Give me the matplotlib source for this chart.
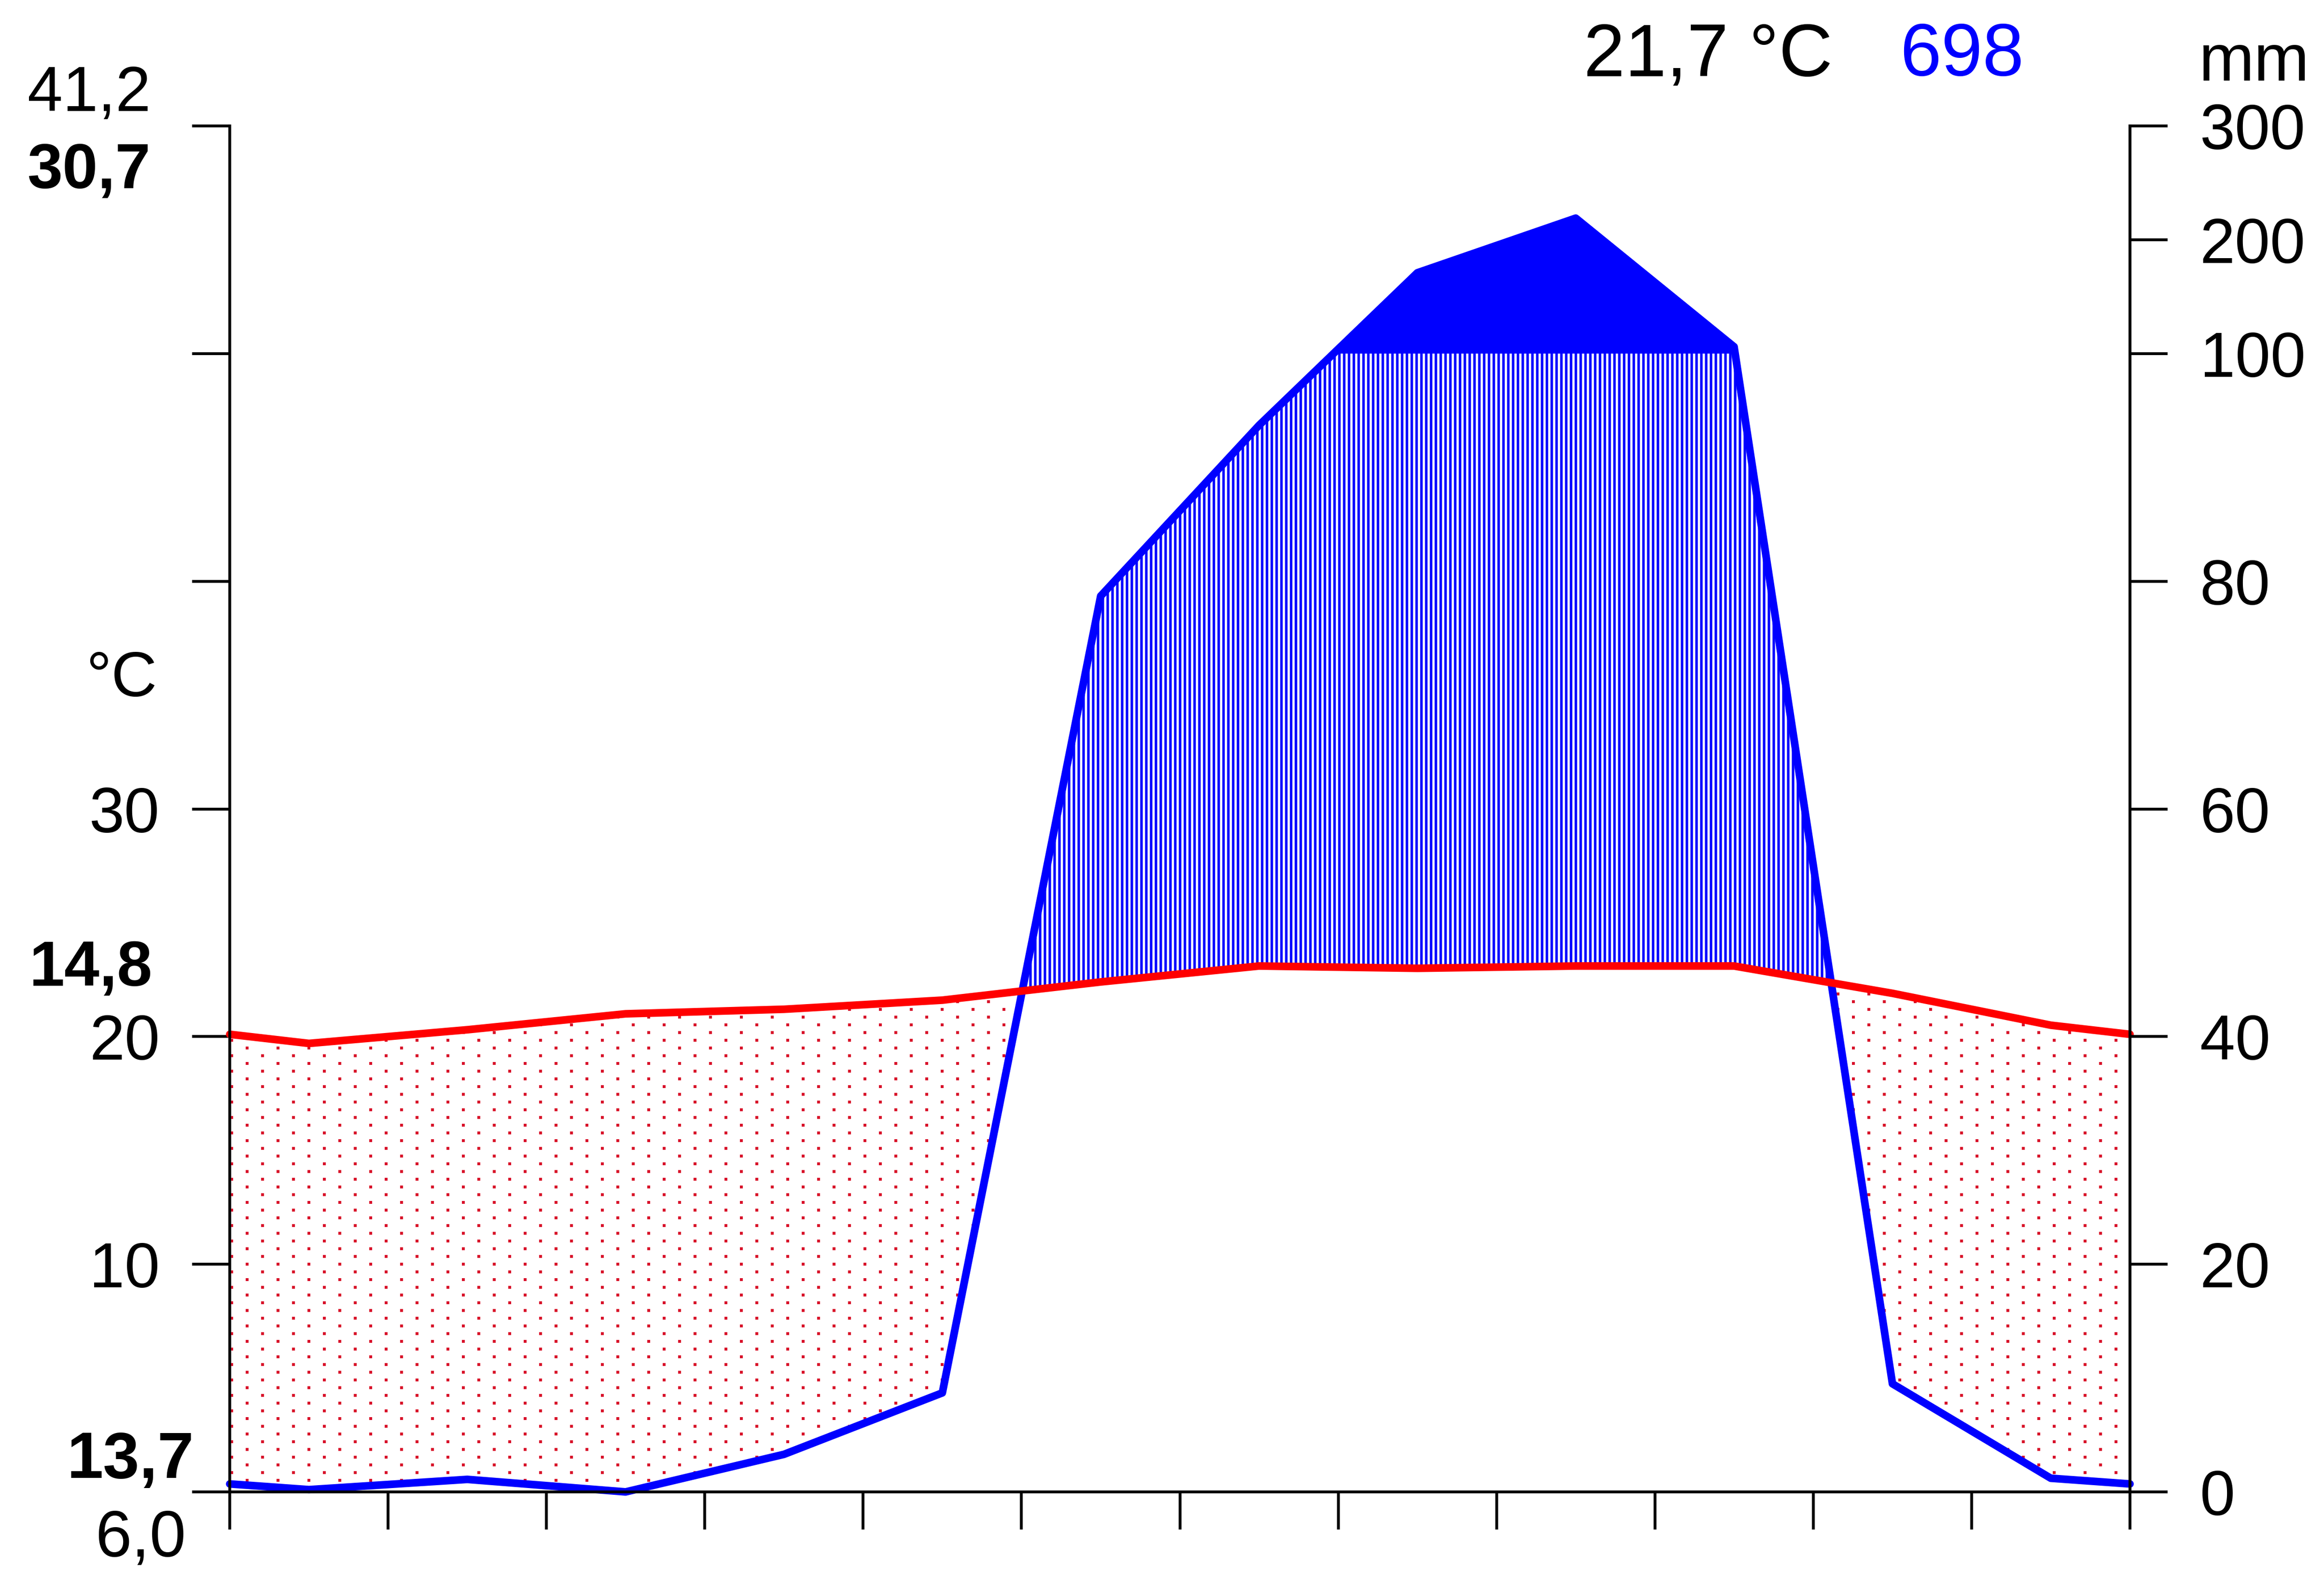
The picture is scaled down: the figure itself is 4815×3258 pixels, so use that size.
import numpy as np
import matplotlib.pyplot as plt
from matplotlib.path import Path

# ==================================================
# DATA
# ==================================================

# monthly means, Jan..Dec
temp_c = [19.7, 20.3, 21.0, 21.2, 21.6, 22.4, 23.1, 23.0, 23.1, 23.1, 21.9, 20.5]
precip_mm = [0.2, 1.1, 0.0, 3.3, 8.7, 78.7, 93.7, 171, 219, 106, 9.5, 1.2]

# station summary
annual_temp = 21.7
annual_precip = 698

# side values (°C)
abs_max = 41.2
max_warmest = 30.7
extra_value = 14.8
min_coldest = 13.7
abs_min = 6.0

temp_ticks = [0, 10, 20, 30, 40, 50, 60]
temp_labels = ["", "10", "20", "30", "", "", ""]
mm_ticks = [0, 20, 40, 60, 80, 100, 200, 300]

# ==================================================
# STYLE
# ==================================================

plt.rcParams["font.family"] = ["Liberation Sans", "DejaVu Sans"]
plt.rcParams["hatch.linewidth"] = 1.25

RED = "#ff0000"
BLUE = "#0000ff"
DOT_RED = "#d8102a"
LABEL_SIZE = 31.5
LINE_W = 3.8
DPI = 300


def fmt(v):
    return f"{v:.1f}".replace(".", ",")


def mm_scale(p):
    # 20 mm = 10 °C up to 100 mm, compressed tenfold above
    p = np.asarray(p, dtype=float)
    return np.where(p <= 100, p / 2.0, 50 + (p - 100) / 20.0)


# ==================================================
# SERIES (year wraps around at both edges)
# ==================================================

x = np.concatenate([[0], np.arange(12) + 0.5, [12]])

t_edge = (temp_c[0] + temp_c[-1]) / 2
p_edge = (precip_mm[0] + precip_mm[-1]) / 2

t = np.array([t_edge] + temp_c + [t_edge])
p = mm_scale([p_edge] + precip_mm + [p_edge])

# ==================================================
# FIGURE
# ==================================================

fig = plt.figure(figsize=(4815 / DPI, 3258 / DPI), dpi=DPI)
ax = fig.add_axes([0.09886, 0.05095, 0.81765, 0.86894])

ax.set_xlim(0, 12)
ax.set_ylim(0, 60)

# humid season: vertical hatching
ax.fill_between(
    x, t, p,
    where=p >= t,
    interpolate=True,
    facecolor="none",
    edgecolor=BLUE,
    linewidth=0,
    hatch="|||||"
)

# more than 100 mm: solid
ax.fill_between(
    x, 50, p,
    where=p >= 50,
    interpolate=True,
    facecolor=BLUE,
    edgecolor="none",
    linewidth=0
)

# dry season: dotted
dry = ax.fill_between(
    x, p, t,
    where=t >= p,
    interpolate=True,
    facecolor="none",
    edgecolor="none",
    linewidth=0
)

bbox = ax.get_window_extent()
w_px, h_px = bbox.width, bbox.height
dot_x = []
dot_y = []
for j, yy in enumerate(np.arange(8, h_px, 16)):
    xs = np.arange(4 + (j % 2) * 32, w_px, 64)
    dot_x.extend(xs / w_px)
    dot_y.extend([yy / h_px] * len(xs))

dots = ax.scatter(
    dot_x, dot_y,
    s=2.2,
    marker="s",
    color=DOT_RED,
    linewidths=0,
    transform=ax.transAxes
)
dots.set_clip_path(
    Path.make_compound_path(*dry.get_paths()),
    ax.transData
)

ax.plot(
    x, p,
    color=BLUE,
    linewidth=LINE_W,
    solid_capstyle="round",
    solid_joinstyle="round",
    clip_on=False
)

ax.plot(
    x, t,
    color=RED,
    linewidth=LINE_W,
    solid_capstyle="round",
    solid_joinstyle="round",
    clip_on=False
)

# ==================================================
# AXES
# ==================================================

ax.spines["top"].set_visible(False)
for side in ["left", "right", "bottom"]:
    ax.spines[side].set_linewidth(1.4)

ax.set_xticks(range(13))
ax.set_xticklabels([])
ax.tick_params(axis="x", direction="out", length=18.7, width=1.4)

ax.set_yticks(temp_ticks)
ax.set_yticklabels(temp_labels)
ax.tick_params(
    axis="y",
    direction="out",
    length=18.7,
    width=1.4,
    labelsize=LABEL_SIZE,
    pad=16
)

ax2 = ax.twinx()
ax2.set_ylim(0, 60)
ax2.spines["top"].set_visible(False)
ax2.spines["right"].set_linewidth(1.4)
ax2.set_yticks(mm_scale(mm_ticks))
ax2.set_yticklabels([str(v) for v in mm_ticks])
ax2.tick_params(
    axis="y",
    direction="out",
    length=18.7,
    width=1.4,
    labelsize=LABEL_SIZE,
    pad=16
)

# ==================================================
# TEXT
# ==================================================

fig.text(0.0118, 0.9294, fmt(abs_max), fontsize=LABEL_SIZE, va="baseline")
fig.text(0.0118, 0.8803, fmt(max_warmest), fontsize=LABEL_SIZE,
         fontweight="bold", va="baseline")
fig.text(0.0127, 0.3732, fmt(extra_value), fontsize=LABEL_SIZE,
         fontweight="bold", va="baseline")
fig.text(0.0835, 0.0599, fmt(min_coldest), fontsize=32.5,
         fontweight="bold", ha="right", va="baseline")
fig.text(0.0800, 0.0101, fmt(abs_min), fontsize=32.5,
         ha="right", va="baseline")

fig.text(0.0370, 0.5571, "°C", fontsize=LABEL_SIZE, va="baseline")
fig.text(0.9462, 0.9487, "mm", fontsize=33, va="baseline")

fig.text(0.6815, 0.9518, fmt(annual_temp) + " °C", fontsize=37,
         va="baseline")
fig.text(0.8175, 0.9518, str(annual_precip), fontsize=37,
         color=BLUE, va="baseline")

fig.savefig("out.png", dpi=DPI, facecolor="white")
